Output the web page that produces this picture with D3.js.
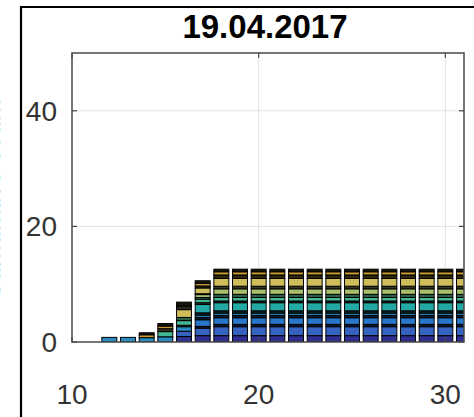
<!DOCTYPE html>
<html>
<head>
<meta charset="utf-8">
<script src="https://cdn.jsdelivr.net/npm/d3@7"></script>
<style>
  html, body { margin: 0; padding: 0; background: #fff; }
  svg { display: block; }
</style>
</head>
<body>
<svg id="chart" width="474" height="417"></svg>
<script>
const title = "19.04.2017";
const yLabel = "Cumulative count";
const days = [11,12,13,14,15,16,17,18,19,20,21,22,23,24,25,26,27,28,29,30,31];
const xTicks = [10, 20, 30];
const yTicks = [0, 20, 40];

// stacked series, bottom to top
const s01 = [0,0,0,0,0,0.95,1.1,1.1,1.1,1.1,1.1,1.1,1.1,1.1,1.1,1.1,1.1,1.1,1.1,1.1,1.1];
const s02 = [0,0,0,0,0,0.9,1.3,1.55,1.55,1.55,1.55,1.55,1.55,1.55,1.55,1.55,1.55,1.55,1.55,1.55,1.55];
const s03 = [0,0,0,0,0,0,0.3,0.4,0.4,0.4,0.4,0.4,0.4,0.4,0.4,0.4,0.4,0.4,0.4,0.4,0.4];
const s04 = [0,0,0,0,0,0,1.15,1.15,1.15,1.15,1.15,1.15,1.15,1.15,1.15,1.15,1.15,1.15,1.15,1.15,1.15];
const s05 = [0,0,0,0,0,0,0.4,0.4,0.4,0.4,0.4,0.4,0.4,0.4,0.4,0.4,0.4,0.4,0.4,0.4,0.4];
const s06 = [0,0.8,0.8,0.75,0.9,0.8,0.4,0.4,0.4,0.4,0.4,0.4,0.4,0.4,0.4,0.4,0.4,0.4,0.4,0.4,0.4];
const s07 = [0,0,0,0,0,0.25,0.4,0.4,0.4,0.4,0.4,0.4,0.4,0.4,0.4,0.4,0.4,0.4,0.4,0.4,0.4];
const s08 = [0,0,0,0,0,0,1.45,1.4,1.4,1.4,1.4,1.4,1.4,1.4,1.4,1.4,1.4,1.4,1.4,1.4,1.4];
const s09 = [0,0,0,0,0,0,0.3,0.3,0.3,0.3,0.3,0.3,0.3,0.3,0.3,0.3,0.3,0.3,0.3,0.3,0.3];
const s10 = [0,0,0,0,0.9,0.8,0.6,0.6,0.6,0.6,0.6,0.6,0.6,0.6,0.6,0.6,0.6,0.6,0.6,0.6,0.6];
const s11 = [0,0,0,0,0,0.55,0.3,0.55,0.55,0.55,0.55,0.55,0.55,0.55,0.55,0.55,0.55,0.55,0.55,0.55,0.55];
const s12 = [0,0,0,0,0,0,0.5,0.95,0.95,0.95,0.95,0.95,0.95,0.95,0.95,0.95,0.95,0.95,0.95,0.95,0.95];
const s13 = [0,0,0,0,0.5,0,0.15,0.45,0.45,0.45,0.45,0.45,0.45,0.45,0.45,0.45,0.45,0.45,0.45,0.45,0.45];
const s14 = [0,0,0,0,0,1.35,1.0,1.35,1.35,1.35,1.35,1.35,1.35,1.35,1.35,1.35,1.35,1.35,1.35,1.35,1.35];
const s15 = [0,0,0,0,0,0.6,0.35,0.6,0.6,0.6,0.6,0.6,0.6,0.6,0.6,0.6,0.6,0.6,0.6,0.6,0.6];
const s16 = [0,0,0,0.5,0.45,0,0.45,0.55,0.55,0.55,0.55,0.55,0.55,0.55,0.55,0.55,0.55,0.55,0.55,0.55,0.55];
const s17 = [0,0,0,0.35,0.45,0.7,0.45,0.45,0.45,0.45,0.45,0.45,0.45,0.45,0.45,0.45,0.45,0.45,0.45,0.45,0.45];

const seriesValues = [s01,s02,s03,s04,s05,s06,s07,s08,s09,s10,s11,s12,s13,s14,s15,s16,s17];
const seriesColors = ["#2e2f8e","#3563c0","#141a3c","#2776c8","#0e1a30","#2a8ac2","#0c2830",
  "#24a8a6","#173c3a","#42b894","#2d5e48","#a8c06c","#34381e","#cfbc5a","#2c2612","#c99a32","#18140a"];

const keys = seriesValues.map((_, i) => "s" + i);
const table = days.map((d, j) => {
  const row = { day: d };
  seriesValues.forEach((arr, i) => { row[keys[i]] = arr[j]; });
  return row;
});

const svg = d3.select("#chart");
const L = 72, R = 464, T = 53, B = 342;
const x = d3.scaleLinear().domain([10, 31]).range([L, R]);
const y = d3.scaleLinear().domain([0, 50]).range([B, T]);
const barW = x(10.8) - x(10);

const font = "'Liberation Sans', Arial, Helvetica, sans-serif";

// grid
const grid = svg.append("g");
grid.selectAll("line.gx").data(xTicks.filter(t => t > 10)).join("line")
  .attr("x1", d => x(d)).attr("x2", d => x(d)).attr("y1", T).attr("y2", B)
  .attr("stroke", "#e3e3e3").attr("stroke-width", 1);
grid.selectAll("line.gy").data(yTicks.filter(t => t > 0)).join("line")
  .attr("y1", d => y(d)).attr("y2", d => y(d)).attr("x1", L).attr("x2", R)
  .attr("stroke", "#e3e3e3").attr("stroke-width", 1);

// bars
svg.append("clipPath").attr("id", "clip").append("rect")
  .attr("x", L).attr("y", T).attr("width", R - L).attr("height", B - T);
const stack = d3.stack().keys(keys)(table);
const bars = svg.append("g").attr("clip-path", "url(#clip)");
stack.forEach((layer, i) => {
  bars.selectAll(null).data(layer.filter(d => d[1] - d[0] > 0)).join("rect")
    .attr("x", d => x(d.data.day) - barW / 2)
    .attr("width", barW)
    .attr("y", d => y(d[1]))
    .attr("height", d => y(d[0]) - y(d[1]))
    .attr("fill", seriesColors[i])
    .attr("stroke", "#000")
    .attr("stroke-width", 1);
});

// box
svg.append("rect").attr("x", L).attr("y", T).attr("width", R - L).attr("height", B - T)
  .attr("fill", "none").attr("stroke", "#4a4a4a").attr("stroke-width", 1.5);

// ticks (inward)
const tk = svg.append("g").attr("stroke", "#4a4a4a").attr("stroke-width", 1.2);
xTicks.forEach(t => {
  tk.append("line").attr("x1", x(t)).attr("x2", x(t)).attr("y1", B).attr("y2", B - 5);
  tk.append("line").attr("x1", x(t)).attr("x2", x(t)).attr("y1", T).attr("y2", T + 5);
});
yTicks.forEach(t => {
  tk.append("line").attr("x1", L).attr("x2", L + 5).attr("y1", y(t)).attr("y2", y(t));
  tk.append("line").attr("x1", R).attr("x2", R - 5).attr("y1", y(t)).attr("y2", y(t));
});

// tick labels
svg.append("g").selectAll("text").data(xTicks).join("text")
  .attr("x", d => x(d)).attr("y", 404)
  .attr("text-anchor", "middle")
  .attr("font-family", font).attr("font-size", 28).attr("fill", "#333")
  .text(d => d);
svg.append("g").selectAll("text").data(yTicks).join("text")
  .attr("x", 57).attr("y", d => y(d)).attr("dy", "0.36em")
  .attr("text-anchor", "end")
  .attr("font-family", font).attr("font-size", 28).attr("fill", "#333")
  .text(d => d);

// title
svg.append("text").attr("x", 265).attr("y", 38).attr("text-anchor", "middle")
  .attr("font-family", font).attr("font-size", 33).attr("font-weight", "bold")
  .attr("fill", "#000").text(title);

// y label (mostly cut off at the left edge, as in the reference)
svg.append("text").attr("transform", "translate(0,200) rotate(-90)")
  .attr("text-anchor", "middle")
  .attr("font-family", font).attr("font-size", 26).attr("fill", "#555")
  .text(yLabel);

// outer frame lines
svg.append("line").attr("x1", 21).attr("x2", 21).attr("y1", 6).attr("y2", 417)
  .attr("stroke", "#000").attr("stroke-width", 2.2);
svg.append("line").attr("x1", 20).attr("x2", 474).attr("y1", 7).attr("y2", 7)
  .attr("stroke", "#000").attr("stroke-width", 2.2);
</script>
</body>
</html>
